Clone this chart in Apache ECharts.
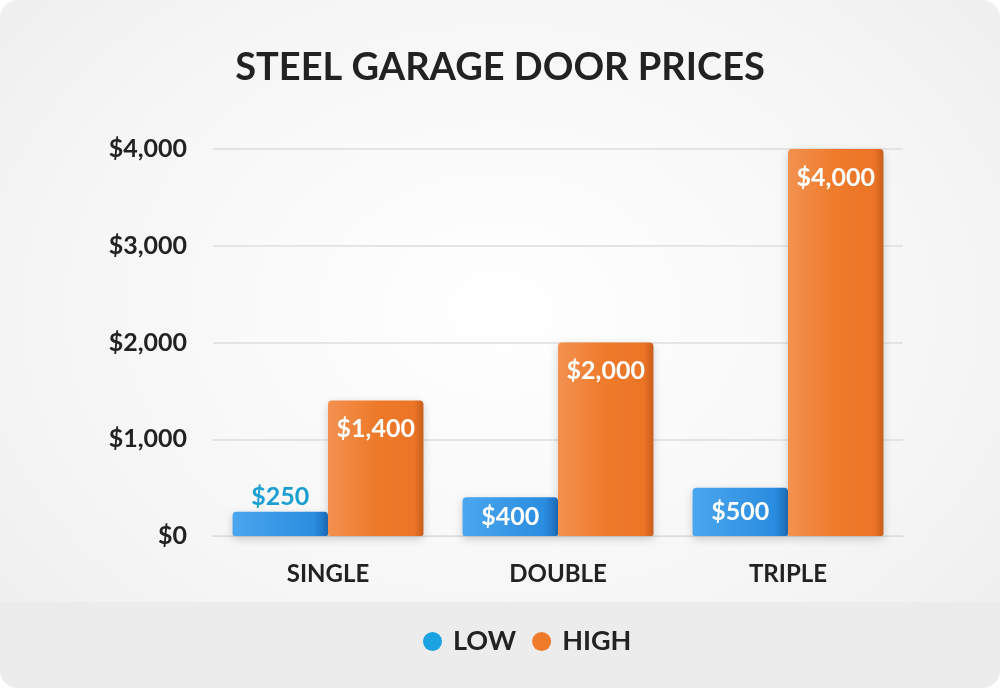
<!DOCTYPE html>
<html>
<head>
<meta charset="utf-8">
<script src="https://cdn.jsdelivr.net/npm/echarts@6/dist/echarts.min.js"></script>
<style>
  html, body { margin: 0; padding: 0; background: #fff; }
  #main { width: 1000px; height: 688px; border-radius: 18px; overflow: hidden;
          background: radial-gradient(ellipse at 50% 45%, #ffffff 0%, #f6f6f6 60%, #ededed 100%); }
</style>
</head>
<body>
<div id="main"></div>
<script>
var categories = ['SINGLE', 'DOUBLE', 'TRIPLE'];
var lowValues = [250, 400, 500];
var highValues = [1400, 2000, 4000];
var yTicks = [0, 1000, 2000, 3000, 4000];

var chart = echarts.init(document.getElementById('main'));

function money(v) {
    return '$' + v.toLocaleString('en-US');
}

var fontFam = 'Lato, "DejaVu Sans", sans-serif';

// low bars: first one has the label on top, the others inside
var lowData = lowValues.map(function (v, i) {
    var item = { value: v };
    if (i === 0) {
        item.label = { position: 'top', color: '#1b9fd3', distance: 2 };
    }
    return item;
});

var option = {
    backgroundColor: 'transparent',
    graphic: [{
        type: 'rect',
        shape: { x: 0, y: 602, width: 1000, height: 86 },
        style: { fill: '#ececec' },
        z: -10
    }],
    title: {
        text: 'STEEL GARAGE DOOR PRICES',
        left: 'center',
        top: 44,
        textStyle: { fontFamily: fontFam, fontWeight: 'bold', fontSize: 38, color: '#222' }
    },
    legend: {
        bottom: 28,
        left: 418,
        icon: 'circle',
        itemWidth: 19,
        itemHeight: 19,
        itemGap: 16,
        textStyle: { fontFamily: fontFam, fontWeight: 'bold', fontSize: 27, color: '#222', padding: [0, 0, 0, 6] },
        data: [
            { name: 'LOW', itemStyle: { color: '#1aa3e0' } },
            { name: 'HIGH', itemStyle: { color: '#ee7a2a' } }
        ]
    },
    grid: { left: 213, right: 97, top: 149, bottom: 152 },
    xAxis: {
        type: 'category',
        data: categories,
        axisLine: { show: true, lineStyle: { color: '#dcdcdc' } },
        axisTick: { show: false },
        axisLabel: { margin: 26, fontFamily: fontFam, fontWeight: 'bold', fontSize: 24, color: '#222' }
    },
    yAxis: {
        type: 'value',
        min: 0,
        max: 4000,
        interval: 1000,
        axisLine: { show: false },
        axisTick: { show: false },
        splitLine: { lineStyle: { color: '#dedede', width: 1.5 } },
        axisLabel: {
            margin: 26,
            fontFamily: fontFam, fontWeight: 'bold', fontSize: 25, color: '#222',
            formatter: function (v) { return yTicks.indexOf(v) >= 0 ? money(v) : ''; }
        }
    },
    series: [{
        name: 'LOW',
        type: 'bar',
        data: lowData,
        barGap: '0%',
        barCategoryGap: '17%',
        itemStyle: {
            borderRadius: [4, 4, 2, 2],
            color: new echarts.graphic.LinearGradient(0, 0, 1, 0, [
                { offset: 0, color: '#4aa6ee' },
                { offset: 0.85, color: '#2b8de0' },
                { offset: 1, color: '#1d6fbe' }
            ]),
            shadowColor: 'rgba(0,0,0,0.18)',
            shadowBlur: 8,
            shadowOffsetY: 3
        },
        label: {
            show: true,
            position: 'inside',
            formatter: function (p) { return money(p.value); },
            fontFamily: fontFam, fontWeight: 'bold', fontSize: 25, color: '#fff'
        }
    }, {
        name: 'HIGH',
        type: 'bar',
        data: highValues,
        itemStyle: {
            borderRadius: [4, 4, 2, 2],
            color: new echarts.graphic.LinearGradient(0, 0, 1, 0, [
                { offset: 0, color: '#f39150' },
                { offset: 0.5, color: '#ee7a2a' },
                { offset: 0.9, color: '#ec7426' },
                { offset: 1, color: '#c95e1c' }
            ]),
            shadowColor: 'rgba(0,0,0,0.18)',
            shadowBlur: 8,
            shadowOffsetY: 3
        },
        label: {
            show: true,
            position: 'insideTop',
            distance: 16,
            formatter: function (p) { return money(p.value); },
            fontFamily: fontFam, fontWeight: 'bold', fontSize: 25, color: '#fff'
        }
    }]
};

chart.setOption(option);
</script>
</body>
</html>
